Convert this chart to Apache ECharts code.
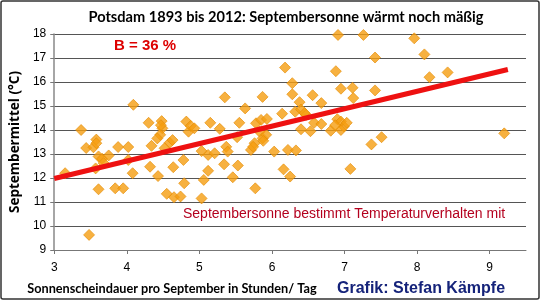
<!DOCTYPE html>
<html><head><meta charset="utf-8">
<script src="https://cdn.jsdelivr.net/npm/echarts@6/dist/echarts.min.js"></script>
<style>html,body{margin:0;padding:0;background:#fff}#c{width:540px;height:300px}</style>
</head><body><div id="c"></div>
<script>
// Sunshine duration (hours/day) in September, 1893-2012
const sunshineHours = [
3.15,3.37,3.44,3.54,3.58,3.61,3.66,3.68,3.75,3.57,3.61,3.48,3.88,4.02,4.02,4.08,3.84,3.95,4.09,3.58,
4.30,4.34,4.32,4.43,4.48,4.49,4.46,4.42,4.59,4.63,4.52,4.64,4.55,4.65,4.74,4.79,4.78,4.82,4.85,4.88,4.93,5.03,5.12,5.12,5.06,5.03,5.15,4.47,
5.21,5.28,5.35,5.37,5.39,5.34,5.53,5.46,5.52,5.55,5.63,5.71,5.76,5.77,5.78,5.85,5.83,5.87,5.92,5.93,5.87,5.88,5.74,
6.03,6.14,6.18,6.28,6.28,6.16,6.25,6.22,6.33,6.32,6.38,6.40,6.40,6.47,6.56,6.53,6.58,6.68,6.68,6.81,6.88,6.91,6.90,6.95,6.99,6.95,6.95,6.45,6.87,
7.03,7.08,7.11,7.12,7.26,7.37,7.42,7.42,7.51,7.96,8.10,8.17,8.42,9.20
];
// Mean September temperature (°C)
const septemberTemps = [
12.2,14.0,13.25,13.28,13.6,12.9,12.8,12.62,12.94,12.4,11.53,9.63,13.29,13.29,12.75,12.2,11.57,11.57,15.05,13.45,
14.3,13.34,12.47,12.08,14.37,14.07,13.8,13.65,13.47,13.58,13.24,12.45,11.34,11.2,11.23,11.78,12.75,14.35,13.93,14.17,14.07,13.12,12.96,12.3,11.92,11.15,14.3,14.2,
13.03,14.05,15.36,13.3,13.1,12.57,12.52,12.03,13.7,14.3,14.9,13.17,13.45,11.57,14.28,14.42,13.93,13.65,13.8,14.46,15.38,13.55,13.3,
13.1,14.68,16.6,15.95,15.49,12.36,12.06,13.17,13.15,14.76,15.16,14.85,14.03,14.63,15.45,13.95,14.3,14.25,15.12,13.97,16.45,17.96,14.45,14.35,14.15,14.0,15.72,14.7,14.2,
14.3,12.38,15.76,15.33,17.96,13.4,15.65,17.02,13.7,17.82,17.15,16.2,16.4,13.86
];
// Linear trend line end points
const trendX = [3, 9.25];
const trendY = [11.98, 16.52];
const xTicks = [3,4,5,6,7,8,9];
const yTicks = [9,10,11,12,13,14,15,16,17,18];

const pts = sunshineHours.map((x,i)=>[x, septemberTemps[i]]);
const trend = trendX.map((x,i)=>[x, trendY[i]]);

const chart = echarts.init(document.getElementById('c'), null, {renderer:'canvas'});
chart.setOption({
  animation:false,
  backgroundColor:'#fff',
  title:{
    text:'Potsdam 1893 bis 2012: Septembersonne wärmt noch mäßig',
    left:281, top:5, textAlign:'center',
    textStyle:{fontFamily:'Lato', fontWeight:'bold', fontSize:14.6, color:'#000'}
  },
  grid:{left:52, right:14, top:34, bottom:50},
  xAxis:{
    type:'value', min:3, max:9.5, interval:1,
    name:'Sonnenscheindauer pro September in Stunden/ Tag',
    nameLocation:'start', nameGap:0,
    nameTextStyle:{fontFamily:'Lato', fontWeight:'bold', fontSize:12.7, color:'#000', align:'left', verticalAlign:'top', padding:[32,0,0,-27]},
    axisLine:{show:true, lineStyle:{color:'#777', width:1}},
    axisTick:{show:true, length:4, lineStyle:{color:'#777'}, customValues:xTicks},
    axisLabel:{color:'#000', fontFamily:'Liberation Sans', fontSize:12, margin:12, customValues:xTicks},
    splitLine:{show:false}
  },
  yAxis:{
    type:'value', min:9, max:18, interval:1,
    name:'Septembermittel (°C)', nameLocation:'middle', nameGap:32, nameRotate:90,
    nameTextStyle:{fontFamily:'Open Sans', fontWeight:'bold', fontSize:13.5, color:'#000'},
    axisLine:{show:true, lineStyle:{color:'#888', width:1.5}},
    axisTick:{show:true, length:4, lineStyle:{color:'#777'}},
    axisLabel:{color:'#000', fontFamily:'Liberation Sans', fontSize:12, margin:8},
    splitLine:{show:true, lineStyle:{color:'#555', width:1}}
  },
  series:[
    {type:'scatter', data:pts, symbol:'diamond', symbolSize:11,
     itemStyle:{color:'#f59e10', borderColor:'#e58a00', borderWidth:0.8}, z:3},
    {type:'line', data:trend, showSymbol:false, symbol:'none',
     lineStyle:{color:'#ee1111', width:5}, z:4}
  ],
  graphic:[
    {type:'rect', shape:{x:1, y:1, width:538, height:298, r:2}, style:{fill:'none', stroke:'#333', lineWidth:1.5}, silent:true},
    {type:'text', left:114, top:38, style:{text:'B = 36 %', fill:'#dd0000', font:'bold 15px "Liberation Sans"'}},
    {type:'text', left:183, top:207, style:{text:'Septembersonne bestimmt Temperaturverhalten mit', fill:'#b4001e', font:'14px "Liberation Sans"'}},
    {type:'text', left:337, top:281, style:{text:'Grafik: Stefan Kämpfe', fill:'#15237a', font:'bold 16px "Liberation Sans"'}}
  ]
});
</script></body></html>
